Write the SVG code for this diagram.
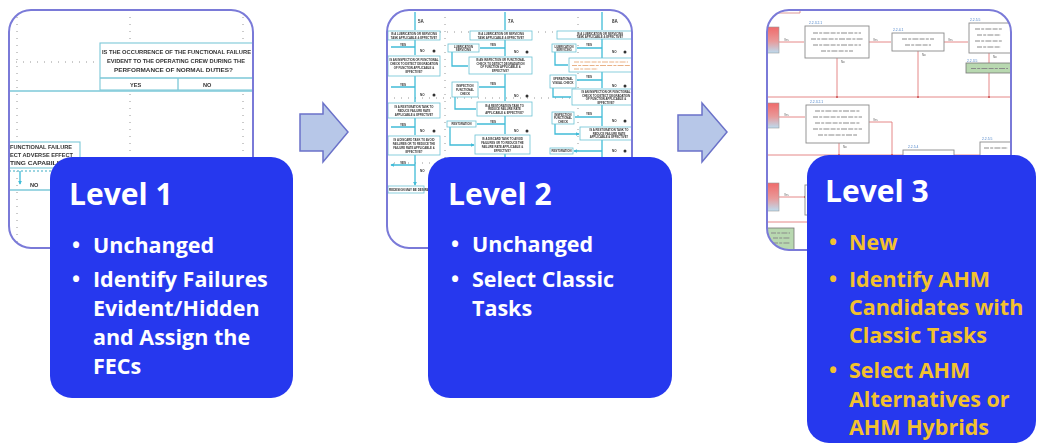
<svg xmlns="http://www.w3.org/2000/svg" width="1038" height="445" viewBox="0 0 1038 445">
<defs>
<style>
.frame{fill:#fff;stroke:none}
.fs{fill:none;stroke:#7a7ad8;stroke-width:2}
.card{fill:#2638ee}
.ttl{font-family:"Open Sans","Liberation Sans",sans-serif;font-weight:700;font-size:30px;fill:#fff}
.bl{font-family:"Open Sans","Liberation Sans",sans-serif;font-weight:700;font-size:21.5px;fill:#fff}
.gold{fill:#f2c12e}
.arrow{fill:#b7c7e8;stroke:#6b72c9;stroke-width:1.5}
.grid{stroke:#8a8a8a;stroke-width:0.9;stroke-dasharray:1 6;fill:none}
.tl{stroke:#7cc8d8;stroke-width:1.3;fill:none}
.bx1{fill:#fff;stroke:#7cc8d8;stroke-width:1.1}
.t1{font-family:"Liberation Sans",Arial,sans-serif;font-size:5.6px;font-weight:700;fill:#333}
.b2{fill:#fff;stroke:#6cc2d4;stroke-width:0.8}
.c2{stroke:#40bcd8;stroke-width:1.3;fill:none}
.t2{font-family:"Liberation Sans",Arial,sans-serif;font-size:2.8px;font-weight:700;fill:#333;text-anchor:middle}
.y2{font-family:"Liberation Sans",Arial,sans-serif;font-size:3px;font-weight:700;fill:#333}
.h2{font-family:"Liberation Sans",Arial,sans-serif;font-size:4.5px;font-weight:700;fill:#333}
.b3{fill:#fff;stroke:#8a8a8a;stroke-width:0.9}
.r3{stroke:#e27a7a;stroke-width:0.9;fill:none}
.l3{font-family:"Liberation Sans",Arial,sans-serif;font-size:3.4px;fill:#4a80c8}
.s3{font-family:"Liberation Sans",Arial,sans-serif;font-size:2.8px;fill:#555}
.tx3{stroke:#8a8a8a;stroke-width:1;fill:none;stroke-dasharray:5 1.2 3 1.2 6 1.2}
.ox{stroke:#e6a878;stroke-width:0.9;fill:none;stroke-dasharray:5 1.2 3 1.2 6 1.2}
</style>
<clipPath id="cp1"><rect x="9" y="10" width="244" height="238" rx="22"/></clipPath>
<clipPath id="cp2"><rect x="387" y="10" width="245" height="238" rx="22"/></clipPath>
<clipPath id="cp3"><rect x="767" y="10" width="244" height="240" rx="22"/></clipPath>
<linearGradient id="rg" x1="0" y1="0" x2="0" y2="1"><stop offset="0" stop-color="#f06a6a"/><stop offset="0.55" stop-color="#e89a9a"/><stop offset="1" stop-color="#bcdcf0"/></linearGradient>
<filter id="soft" x="-5%" y="-5%" width="110%" height="110%"><feGaussianBlur stdDeviation="0.35"/></filter>
<marker id="ah2" viewBox="0 0 6 6" refX="5" refY="3" markerWidth="3.2" markerHeight="3.2" orient="auto"><path d="M0,0 L6,3 L0,6 z" fill="#40bcd8"/></marker>
<marker id="ah3" viewBox="0 0 6 6" refX="5" refY="3" markerWidth="3" markerHeight="3" orient="auto"><path d="M0,0 L6,3 L0,6 z" fill="#c84a4a"/></marker>
</defs>
<rect width="1038" height="445" fill="#fff"/>

<g id="level1">
 <rect class="frame" x="9" y="10" width="244" height="238" rx="22"/>
 <g clip-path="url(#cp1)"><g filter="url(#soft)">
  <path class="grid" d="M17,10V248M130,10V248M243,10V248M9,62H100"/>
  <rect class="bx1" x="100" y="43" width="165" height="47"/>
  <path class="tl" d="M100,78H265M178,78V90"/>
  <text class="t1" x="102" y="54" textLength="149" lengthAdjust="spacingAndGlyphs">IS THE OCCURRENCE OF THE FUNCTIONAL FAILURE</text>
  <text class="t1" x="107" y="63" textLength="138" lengthAdjust="spacingAndGlyphs">EVIDENT TO THE OPERATING CREW DURING THE</text>
  <text class="t1" x="114" y="72" textLength="119" lengthAdjust="spacingAndGlyphs">PERFORMANCE OF NORMAL DUTIES?</text>
  <text class="t1" x="130" y="87">YES</text>
  <text class="t1" x="203" y="87">NO</text>
  <path class="tl" d="M9,91H253"/>
  <rect class="bx1" x="0" y="142" width="80" height="26"/>
  <text class="t1" x="10" y="149" textLength="62" lengthAdjust="spacingAndGlyphs">FUNCTIONAL FAILURE</text>
  <text class="t1" x="10" y="157" textLength="63" lengthAdjust="spacingAndGlyphs">ECT ADVERSE EFFECT</text>
  <text class="t1" x="10" y="165" textLength="57" lengthAdjust="spacingAndGlyphs">TING CAPABILITY</text>
  <path class="tl" d="M9,171H80" stroke-dasharray="2 2"/>
  <path class="c2" d="M20,171V184" marker-end="url(#ah2)"/>
  <text class="t1" x="30" y="187">NO</text>
  <path class="tl" d="M9,190H60"/>
 </g></g>
 <rect class="fs" x="9" y="10" width="244" height="238" rx="22"/>
 <rect class="card" x="50" y="157" width="243" height="241" rx="22"/>
 <text class="ttl" x="69" y="205">Level 1</text>
 <g class="bl">
  <text x="72" y="253">•</text><text x="93" y="253">Unchanged</text>
  <text x="72" y="287">•</text><text x="93" y="287">Identify Failures</text>
  <text x="93" y="316">Evident/Hidden</text>
  <text x="93" y="345">and Assign the</text>
  <text x="93" y="374">FECs</text>
 </g>
</g>

<g id="level2">
 <rect class="frame" x="387" y="10" width="245" height="238" rx="22"/>
 <g clip-path="url(#cp2)"><g filter="url(#soft)">
  <path class="grid" d="M445,10V248M578,10V248M440,32H557M387,98H640M387,163H640"/>
  <text class="h2" x="418" y="23">5A</text>
  <text class="h2" x="508" y="23">7A</text>
  <text class="h2" x="612" y="23">8A</text>
  <!-- column A -->
  <path class="c2" d="M415,12V30M415,40V55M415,76V102M415,118V135M415,155V185" marker-end="url(#ah2)"/>
  <path class="c2" d="M415,47H391M415,87H391M415,127H391M415,165H391" marker-end="url(#ah2)"/>
  <rect class="b2" x="388" y="31" width="52" height="9"/>
  <text class="t2" x="414" y="35">IS A LUBRICATION OR SERVICING</text>
  <text class="t2" x="414" y="38.6">TASK APPLICABLE &amp; EFFECTIVE?</text>
  <rect class="b2" x="388" y="56" width="52" height="20"/>
  <text class="t2" x="414" y="60.5">IS AN INSPECTION OR FUNCTIONAL</text>
  <text class="t2" x="414" y="64.5">CHECK TO DETECT DEGRADATION</text>
  <text class="t2" x="414" y="68.5">OF FUNCTION APPLICABLE &amp;</text>
  <text class="t2" x="414" y="72.5">EFFECTIVE?</text>
  <rect class="b2" x="388" y="103" width="52" height="15"/>
  <text class="t2" x="414" y="107.5">IS A RESTORATION TASK TO</text>
  <text class="t2" x="414" y="111.5">REDUCE FAILURE RATE</text>
  <text class="t2" x="414" y="115.5">APPLICABLE &amp; EFFECTIVE?</text>
  <rect class="b2" x="388" y="136" width="52" height="19"/>
  <text class="t2" x="414" y="140.5">IS A DISCARD TASK TO AVOID</text>
  <text class="t2" x="414" y="144.5">FAILURES OR TO REDUCE THE</text>
  <text class="t2" x="414" y="148.5">FAILURE RATE APPLICABLE &amp;</text>
  <text class="t2" x="414" y="152.5">EFFECTIVE?</text>
  <g class="y2">
   <text x="400" y="45.5">YES</text><text x="420" y="52">NO</text>
   <text x="400" y="85.5">YES</text><text x="420" y="96">NO</text>
   <text x="400" y="125.5">YES</text><text x="420" y="132">NO</text>
   <text x="400" y="163.5">YES</text><text x="420" y="172">NO</text>
  </g>
  <g fill="#333"><circle cx="434" cy="51" r="1.5"/><circle cx="434" cy="95" r="1.5"/><circle cx="434" cy="131" r="1.5"/></g>
  <rect class="b2" x="388" y="186" width="36" height="7"/>
  <text class="y2" x="389" y="190.8">REDESIGN MAY BE DESIRABLE</text>
  <!-- column B -->
  <path class="c2" d="M505,12V30M505,40V56M505,74V101M505,116V134M505,154V200" marker-end="url(#ah2)"/>
  <path class="c2" d="M505,48H480M505,87H479M505,124H477M505,164H480" marker-end="url(#ah2)"/>
  <path class="c2" d="M452,52V66H468M455,97V109H476M450,127V145H474" marker-end="url(#ah2)"/>
  <rect class="b2" x="470" y="31" width="62" height="9"/>
  <text class="t2" x="501" y="35">IS A LUBRICATION OR SERVICING</text>
  <text class="t2" x="501" y="38.6">TASK APPLICABLE &amp; EFFECTIVE?</text>
  <rect class="b2" x="448" y="44" width="31" height="8"/>
  <text class="t2" x="463.5" y="47.5">LUBRICATION</text>
  <text class="t2" x="463.5" y="50.8">SERVICING</text>
  <rect class="b2" x="469" y="57" width="63" height="17"/>
  <text class="t2" x="500.5" y="61">IS AN INSPECTION OR FUNCTIONAL</text>
  <text class="t2" x="500.5" y="64.5">CHECK TO DETECT DEGRADATION</text>
  <text class="t2" x="500.5" y="68">OF FUNCTION APPLICABLE &amp;</text>
  <text class="t2" x="500.5" y="71.5">EFFECTIVE?</text>
  <rect class="b2" x="452" y="82" width="26" height="15"/>
  <text class="t2" x="465" y="86.5">INSPECTION</text>
  <text class="t2" x="465" y="90.5">FUNCTIONAL</text>
  <text class="t2" x="465" y="94.5">CHECK</text>
  <rect class="b2" x="477" y="102" width="55" height="14"/>
  <text class="t2" x="504.5" y="106.5">IS A RESTORATION TASK TO</text>
  <text class="t2" x="504.5" y="110">REDUCE FAILURE RATE</text>
  <text class="t2" x="504.5" y="113.5">APPLICABLE &amp; EFFECTIVE?</text>
  <rect class="b2" x="447" y="121" width="29" height="6"/>
  <text class="t2" x="461.5" y="125">RESTORATION</text>
  <rect class="b2" x="475" y="135" width="55" height="19"/>
  <text class="t2" x="502.5" y="139.5">IS A DISCARD TASK TO AVOID</text>
  <text class="t2" x="502.5" y="143.5">FAILURES OR TO REDUCE THE</text>
  <text class="t2" x="502.5" y="147.5">FAILURE RATE APPLICABLE &amp;</text>
  <text class="t2" x="502.5" y="151.5">EFFECTIVE?</text>
  <g class="y2">
   <text x="490" y="46">YES</text><text x="514" y="53">NO</text>
   <text x="490" y="85">YES</text><text x="514" y="97">NO</text>
   <text x="490" y="122.5">YES</text><text x="514" y="132">NO</text>
   <text x="490" y="162.5">YES</text><text x="514" y="172">NO</text>
  </g>
  <g fill="#333"><circle cx="527" cy="52" r="1.5"/><circle cx="527" cy="96" r="1.5"/><circle cx="527" cy="131" r="1.5"/><circle cx="527" cy="171" r="1.5"/></g>
  <!-- column C -->
  <path class="c2" d="M602,12V30M602,39V88M602,105V126M602,140V200" marker-end="url(#ah2)"/>
  <path class="c2" d="M602,48H577M602,80H577M602,117H575M602,151H574" marker-end="url(#ah2)"/>
  <path class="c2" d="M555,52V65H568M553,88V97H571M555,124V134H579" marker-end="url(#ah2)"/>
  <rect class="b2" x="557" y="31" width="88" height="8"/>
  <text class="t2" x="600" y="34.6">IS A LUBRICATION OR SERVICING</text>
  <text class="t2" x="600" y="38">TASK APPLICABLE &amp; EFFECTIVE?</text>
  <rect class="b2" x="552" y="44" width="24" height="8"/>
  <text class="t2" x="564" y="47.5">LUBRICATION</text>
  <text class="t2" x="564" y="50.8">SERVICING</text>
  <rect class="b2" x="569" y="58" width="76" height="14"/>
  <path class="ox" d="M574,62H628M572,65.5H630M574,69H598"/>
  <rect class="b2" x="550" y="75" width="26" height="13"/>
  <text class="t2" x="563" y="79.5">OPERATIONAL</text>
  <text class="t2" x="563" y="83.5">VISUAL CHECK</text>
  <rect class="b2" x="572" y="89" width="73" height="16"/>
  <text class="t2" x="606" y="93">IS AN INSPECTION OR FUNCTIONAL</text>
  <text class="t2" x="606" y="96.5">CHECK TO DETECT DEGRADATION</text>
  <text class="t2" x="606" y="100">OF FUNCTION APPLICABLE &amp;</text>
  <text class="t2" x="606" y="103.5">EFFECTIVE?</text>
  <rect class="b2" x="552" y="112" width="22" height="12"/>
  <text class="t2" x="563" y="115.5">INSPECTION</text>
  <text class="t2" x="563" y="119">FUNCTIONAL</text>
  <text class="t2" x="563" y="122.5">CHECK</text>
  <rect class="b2" x="580" y="127" width="65" height="13"/>
  <text class="t2" x="609" y="131">IS A RESTORATION TASK TO</text>
  <text class="t2" x="609" y="134.5">REDUCE FAILURE RATE</text>
  <text class="t2" x="609" y="138">APPLICABLE &amp; EFFECTIVE?</text>
  <rect class="b2" x="550" y="148" width="23" height="6"/>
  <text class="t2" x="561.5" y="152">RESTORATION</text>
  <g class="y2">
   <text x="586" y="46">YES</text><text x="612" y="53">NO</text>
   <text x="586" y="78">YES</text><text x="612" y="87">NO</text>
   <text x="586" y="115">YES</text><text x="612" y="122">NO</text>
   <text x="612" y="152">NO</text>
  </g>
  <g fill="#333"><circle cx="625" cy="52" r="1.5"/><circle cx="625" cy="86" r="1.5"/><circle cx="625" cy="121" r="1.5"/><circle cx="625" cy="151" r="1.5"/></g>
 </g></g>
 <rect class="fs" x="387" y="10" width="245" height="238" rx="22"/>
 <rect class="card" x="428" y="157" width="244" height="241" rx="22"/>
 <text class="ttl" x="448" y="205">Level 2</text>
 <g class="bl">
  <text x="451" y="252">•</text><text x="472" y="252">Unchanged</text>
  <text x="451" y="287">•</text><text x="472" y="287">Select Classic</text>
  <text x="472" y="316">Tasks</text>
 </g>
</g>

<g id="level3">
 <rect class="frame" x="767" y="10" width="244" height="240" rx="22"/>
 <g clip-path="url(#cp3)"><g filter="url(#soft)">
  <path d="M760,13H800V0" fill="none" stroke="#d88c8c" stroke-width="0.9"/>
  <rect x="760" y="27" width="19" height="26" fill="url(#rg)" stroke="#999" stroke-width="0.6"/>
  <rect x="760" y="103" width="19" height="25" fill="url(#rg)" stroke="#999" stroke-width="0.6"/>
  <rect x="760" y="183" width="19" height="28" fill="url(#rg)" stroke="#999" stroke-width="0.6"/>
  <path class="r3" d="M767,97H1011M767,155H1011M767,222H810"/>
  <path class="r3" d="M837,58V96M918,51V96M989,73V96M839,143V154M869,122H892V154"/>
  <path class="r3" d="M989,53V63"/>
  <path class="r3" d="M779,42H804M869,42H891M944,42H968M779,117H805M779,197H806" marker-end="url(#ah3)"/>
  <g fill="#c84a4a"><circle cx="837" cy="97" r="1"/><circle cx="918" cy="97" r="1"/><circle cx="989" cy="97" r="1"/><circle cx="839" cy="155" r="1"/><circle cx="892" cy="155" r="1"/></g>
  <rect class="b3" x="805" y="26" width="64" height="32"/>
  <path class="tx3" d="M813,33H861M811,39H863M813,45H861M821,51H853"/>
  <rect class="b3" x="892" y="33" width="52" height="18"/>
  <path class="tx3" d="M902,39H934M905,45H931"/>
  <rect class="b3" x="969" y="23" width="42" height="30"/>
  <path class="tx3" d="M975,29H1003M977,35H1001M975,41H1003M977,47H1001"/>
  <rect x="966" y="63" width="50" height="10" fill="#b8d8b0" stroke="#777" stroke-width="0.8"/>
  <path class="tx3" d="M971,68.5H1008" stroke="#556"/>
  <rect class="b3" x="806" y="105" width="63" height="38"/>
  <path class="tx3" d="M815,111H860M813,117H862M815,123H860M813,129H862M818,135H857"/>
  <rect class="b3" x="903" y="150" width="51" height="45"/>
  <rect class="b3" x="980" y="142" width="36" height="45"/>
  <path class="tx3" d="M984,148H1008"/>
  <rect class="b3" x="805" y="185" width="30" height="30"/>
  <rect x="767" y="228" width="27" height="24" fill="#b8d8b0" stroke="#777" stroke-width="0.8"/>
  <path class="tx3" d="M771,233H790M773,238H790M773,243H790" stroke="#556"/>
  <g class="l3">
   <text x="809" y="24">2.2.3.2.1</text>
   <text x="893" y="31">2.2.4.1</text>
   <text x="970" y="21">2.2.5.5</text>
   <text x="967" y="61.5">2.2.3.5</text>
   <text x="810" y="103">2.2.3.2.1</text>
   <text x="908" y="148">2.2.5.4</text>
   <text x="982" y="140">2.2.5.5</text>
  </g>
  <g class="s3">
   <text x="784" y="40.5">Yes</text><text x="873" y="40.5">Yes</text><text x="948" y="40.5">Yes</text>
   <text x="841" y="63">No</text><text x="922" y="56">No</text><text x="993" y="57.5">No</text>
   <text x="784" y="115.5">Yes</text><text x="873" y="120.5">Yes</text><text x="843" y="148">No</text>
   <text x="784" y="195.5">Yes</text>
  </g>
 </g></g>
 <rect class="fs" x="767" y="10" width="244" height="240" rx="22"/>
 <rect class="card" x="807" y="155" width="229" height="288" rx="22"/>
 <text class="ttl" x="825" y="202">Level 3</text>
 <g class="bl gold">
  <text x="829" y="250">•</text><text x="849" y="250">New</text>
  <text x="829" y="287">•</text><text x="849" y="287">Identify AHM</text>
  <text x="849" y="315">Candidates with</text>
  <text x="849" y="343">Classic Tasks</text>
  <text x="829" y="378">•</text><text x="849" y="378">Select AHM</text>
  <text x="849" y="407">Alternatives or</text>
  <text x="849" y="435">AHM Hybrids</text>
 </g>
</g>

<g id="connectors">
 <path class="arrow" d="M300,114H323V103L348,132L323,162V151H300Z"/>
 <path class="arrow" d="M678,115H702V103L727,132L702,162V151H678Z"/>
</g>
</svg>
